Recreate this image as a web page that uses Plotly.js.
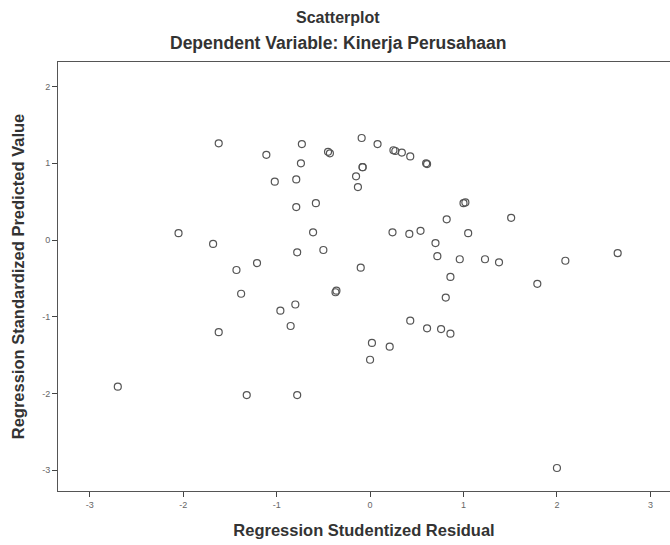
<!DOCTYPE html>
<html>
<head>
<meta charset="utf-8">
<script src="https://cdn.plot.ly/plotly-3.0.1.min.js"></script>
<style>html,body{margin:0;padding:0;background:#fff;}#chart{width:670px;height:545px;}</style>
</head>
<body>
<div id="chart"></div>
<script>
// Regression Studentized Residual (x) and Regression Standardized Predicted Value (y)
var residual = [
  -1.62, -1.11, -0.73, -0.45, -0.43, -0.09, -0.08, -0.74, -1.02, -0.79,
  -0.08, -0.15, -0.13, -0.79, -0.58, -2.05, -1.68, -0.61, -0.78, -0.50,
  -1.21, -1.43, -0.10, 0.08, 0.25, 0.27, 0.34, 0.43, 0.60, 0.61,
  1.00, 1.02, 0.82, 1.51, 0.24, 0.42, 0.54, 1.05, 0.70, 0.72,
  0.96, 1.23, 1.38, 2.09, 2.65, -1.38, -0.37, -0.36, -0.96, -0.80,
  -0.85, -1.62, -2.70, -1.32, -0.78, 0.86, 1.79, 0.81, 0.43, 0.61,
  0.76, 0.86, 0.02, 0.21, 0.00, 2.00
];
var predicted = [
  1.26, 1.11, 1.25, 1.15, 1.13, 1.33, 0.95, 1.00, 0.76, 0.79,
  0.95, 0.83, 0.69, 0.43, 0.48, 0.09, -0.05, 0.10, -0.16, -0.13,
  -0.30, -0.39, -0.36, 1.25, 1.17, 1.16, 1.14, 1.09, 1.00, 0.99,
  0.48, 0.49, 0.27, 0.29, 0.10, 0.08, 0.12, 0.09, -0.04, -0.21,
  -0.25, -0.25, -0.29, -0.27, -0.17, -0.70, -0.68, -0.66, -0.92, -0.84,
  -1.12, -1.20, -1.91, -2.02, -2.02, -0.48, -0.57, -0.75, -1.05, -1.15,
  -1.16, -1.22, -1.34, -1.39, -1.56, -2.97
];
var xTicks = [-3, -2, -1, 0, 1, 2, 3];
var yTicks = [-3, -2, -1, 0, 1, 2];

var trace = {
  x: residual,
  y: predicted,
  type: 'scatter',
  mode: 'markers',
  marker: {symbol: 'circle-open', size: 7, color: '#555555', line: {width: 1.2, color: '#555555'}},
  hoverinfo: 'x+y'
};

var layout = {
  width: 670, height: 545,
  margin: {l: 58, r: 0, t: 62, b: 54},
  paper_bgcolor: '#ffffff', plot_bgcolor: '#ffffff',
  showlegend: false,
  font: {family: 'Liberation Sans, Arial, sans-serif', color: '#333333'},
  xaxis: {
    range: [-3.34, 3.21],
    tickvals: xTicks, ticktext: xTicks.map(String),
    ticks: 'outside', ticklen: 5, tickcolor: '#444', tickwidth: 1,
    tickfont: {size: 9, color: '#666'},
    showgrid: false, zeroline: false,
    showline: true, linecolor: '#555', linewidth: 1, mirror: true,
    title: {text: '<b>Regression Studentized Residual</b>', font: {size: 16.5, color: '#333'}, standoff: 15}
  },
  yaxis: {
    range: [-3.27, 2.32],
    tickvals: yTicks, ticktext: yTicks.map(String),
    ticks: 'outside', ticklen: 5, tickcolor: '#444', tickwidth: 1,
    tickfont: {size: 9, color: '#666'},
    showgrid: false, zeroline: false,
    showline: true, linecolor: '#555', linewidth: 1,
    title: {text: '<b>Regression Standardized Predicted Value</b>', font: {size: 16.5, color: '#333'}, standoff: 13}
  },
  annotations: [
    {text: '<b>Scatterplot</b>', xref: 'paper', yref: 'paper', x: 0.458, y: 1, yanchor: 'middle', yshift: 45, showarrow: false, font: {size: 16, color: '#333'}},
    {text: '<b>Dependent Variable: Kinerja Perusahaan</b>', xref: 'paper', yref: 'paper', x: 0.458, y: 1, yanchor: 'middle', yshift: 19, showarrow: false, font: {size: 17.5, color: '#333'}}
  ]
};

Plotly.newPlot('chart', [trace], layout, {displayModeBar: false, staticPlot: true});
</script>
</body>
</html>
